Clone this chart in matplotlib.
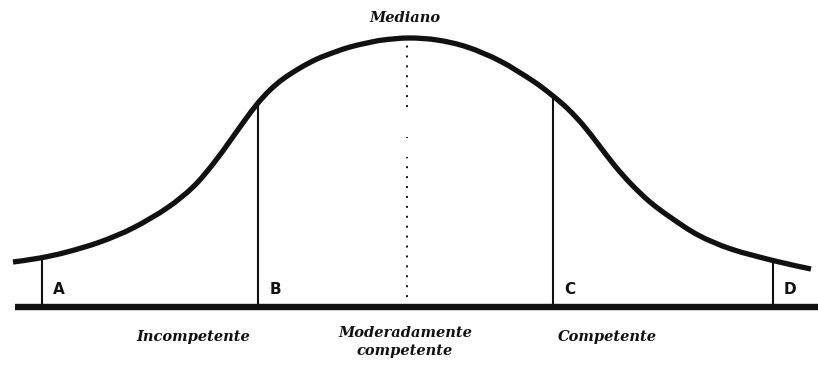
import numpy as np
import matplotlib
matplotlib.use("Agg")
import matplotlib.pyplot as plt
from matplotlib.path import Path
from matplotlib.patches import PathPatch

# curva (x en px de la figura, altura sobre la linea base)
curve_x = [13, 40, 67, 100, 133, 167, 193, 213, 230, 245, 258, 270, 283, 300, 317, 335, 350,
           367, 383, 409, 437, 467, 500, 533, 553, 568, 583, 598, 615, 632, 650, 670, 698,
           731, 775, 811]
curve_h = [45, 49, 55, 65, 79, 99, 120, 143, 166, 187, 204, 217, 228, 239, 248, 255, 260,
           264, 267, 269, 267, 260, 246, 226, 211, 198, 182, 163, 141, 122, 105, 90, 72,
           58, 46, 38]

# limites A, B, C, D
cut_names = ["A", "B", "C", "D"]
cut_x = [42, 258, 553, 773]
cut_h = [49, 204, 211, 45]

# mediana punteada (tramos)
median_x = 407
median_top = [262, 170, 150]
median_bottom = [200, 169, 0]

zones = ["Incompetente", "Moderadamente\ncompetente", "Competente"]
zone_x = [193, 405, 607]
zone_y = [-30, -35, -30]


def smooth_path(xs, ys):
    # curva suave (catmull-rom) que pasa por los puntos leidos
    p = np.column_stack([xs, ys]).astype(float)
    p = np.vstack([p[0], p, p[-1]])
    verts = [p[1]]
    codes = [Path.MOVETO]
    for i in range(1, len(p) - 2):
        c1 = p[i] + (p[i + 1] - p[i - 1]) / 6
        c2 = p[i + 1] - (p[i + 2] - p[i]) / 6
        verts += [c1, c2, p[i + 1]]
        codes += [Path.CURVE4] * 3
    return Path(verts, codes)


fig = plt.figure(figsize=(8.18, 3.70), dpi=100)
ax = fig.add_axes([0, 0, 1, 1])
ax.set_xlim(0, 818)
ax.set_ylim(-63, 307)
ax.axis("off")

# curva y base
ax.add_patch(PathPatch(smooth_path(curve_x, curve_h), fill=False, edgecolor="#111111",
                       lw=3.8, capstyle="butt", joinstyle="round"))
ax.plot([15, 818], [0, 0], color="#111111", lw=4.6, solid_capstyle="butt")

# verticales
for name, x, h in zip(cut_names, cut_x, cut_h):
    ax.plot([x, x], [0, h], color="#111111", lw=1.5)
    ax.text(x + 17, 17, name, ha="center", va="center", fontsize=11,
            fontweight="bold", family="DejaVu Sans", color="#111111")

for top, bot in zip(median_top, median_bottom):
    ax.plot([median_x, median_x], [bot, top], color="#111111", lw=1.4, ls=(0, (1, 4.1)))

ax.text(405, 289, "Mediano", ha="center", va="center", fontsize=10.5,
        style="italic", fontweight="bold", family="DejaVu Serif", color="#111111")

for name, x, y in zip(zones, zone_x, zone_y):
    ax.text(x, y, name, ha="center", va="center", fontsize=10.5, style="italic",
            fontweight="bold", family="DejaVu Serif", linespacing=1.45, color="#111111")

fig.savefig("out.png", dpi=100, facecolor="white")
